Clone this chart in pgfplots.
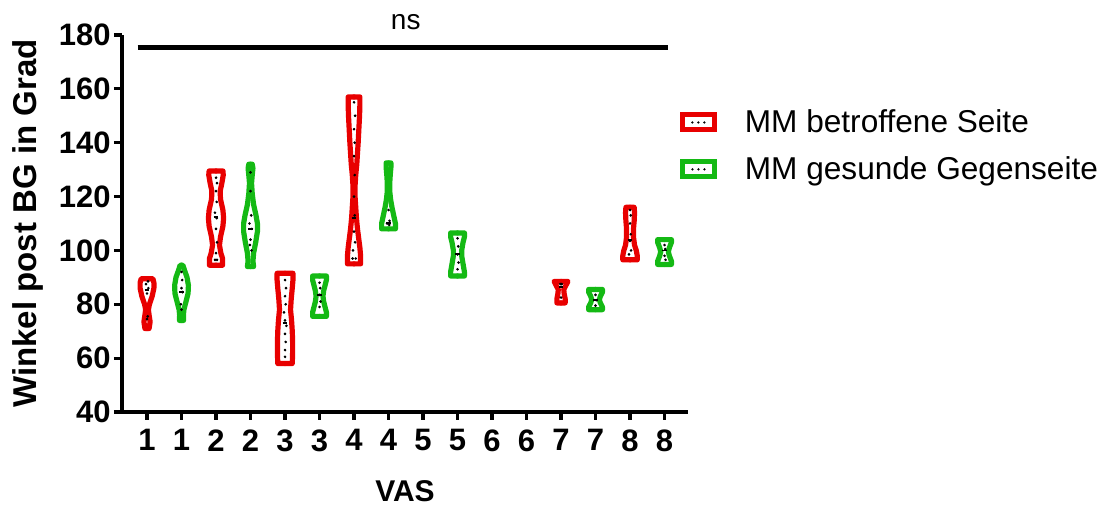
\documentclass[border=0pt]{standalone}
\usepackage{pgfplots}
\pgfplotsset{compat=1.18}
\usepackage{fontspec}
\setmainfont{Liberation Sans}
\definecolor{vred}{RGB}{232,0,0}
\definecolor{vgreen}{RGB}{20,185,20}
\newcommand{\violin}[3]{%
\addplot[#2, line width=2.6pt, line join=round, line cap=round, forget plot] table[x expr={#1+\thisrow{w}}, y=y, row sep=\\] {#3};
\addplot[#2, line width=2.6pt, line join=round, line cap=round, forget plot] table[x expr={#1-\thisrow{w}}, y=y, row sep=\\] {#3};
}
\newcommand{\med}[2]{%
\addplot[black, line width=0.9pt, forget plot] coordinates {(#1-0.07,#2) (#1+0.07,#2)};
}
\begin{document}
\begin{tikzpicture}
\begin{axis}[name=ax, scale only axis, width=283pt, height=188.5pt,
  xmin=-0.725, xmax=15.68, ymin=40, ymax=180,
  axis x line*=bottom, axis y line*=left,
  axis line style={line width=1.6pt, black},
  xtick={0,...,15}, xticklabels={1,1,2,2,3,3,4,4,5,5,6,6,7,7,8,8},
  ytick={40,60,...,180},
  tick style={line width=1.6pt, black}, major tick length=4pt, tick align=outside,
  /pgf/number format/assume math mode=true,
  tick label style={font=\fontsize{15.5}{18}\selectfont\bfseries},
  yticklabel style={inner sep=1.5pt},
  xticklabel style={inner sep=4.5pt},
  xlabel={VAS}, ylabel={Winkel post BG in Grad},
  xlabel style={font=\fontsize{15}{18}\selectfont\bfseries},
  ylabel style={font=\fontsize{16.5}{19}\selectfont\bfseries},
  xlabel shift=6.5pt, ylabel shift=2.5pt,
  clip=false,
  legend style={draw=none, fill=none, at={(rel axis cs:0.985,0.814)}, anchor=north west,
    font=\fontsize{15.8}{18}\selectfont, row sep=6.5pt, inner sep=0pt,
    /tikz/every odd column/.style={column sep=12pt}},
  legend cell align=left,
]
\addlegendimage{legend image code/.code={\draw[vred, line width=2.5pt, fill=white] (0pt,-3.75pt) rectangle (16pt,3.75pt); \foreach \i in {5,8,11} \fill[black] (\i pt,0) circle (0.35pt);}}
\addlegendentry{MM betroffene Seite}
\addlegendimage{legend image code/.code={\draw[vgreen, line width=2.5pt, fill=white] (0pt,-3.75pt) rectangle (16pt,3.75pt); \foreach \i in {5,8,11} \fill[black] (\i pt,0) circle (0.35pt);}}
\addlegendentry{MM gesunde Gegenseite}

\violin{0}{vred}{y w\\ 71 0\\ 71 0.06\\ 73.5 0.09\\ 76 0.06\\ 78 0.04\\ 80 0.07\\ 83 0.15\\ 86 0.2\\ 88 0.2\\ 89.5 0.17\\ 89.5 0\\}
\violin{1}{vgreen}{y w\\ 74 0\\ 74 0.06\\ 76 0.055\\ 78 0.07\\ 81 0.13\\ 84 0.19\\ 87 0.2\\ 90 0.16\\ 92.5 0.09\\ 94.5 0.04\\ 94.5 0\\}
\violin{2}{vred}{y w\\ 94.5 0\\ 94.5 0.19\\ 97 0.19\\ 99 0.14\\ 102 0.1\\ 105 0.13\\ 109 0.2\\ 112 0.22\\ 115 0.2\\ 119 0.13\\ 122 0.12\\ 125 0.17\\ 128 0.21\\ 129.5 0.2\\ 129.5 0\\}
\violin{3}{vgreen}{y w\\ 94 0\\ 94 0.09\\ 96 0.07\\ 99 0.09\\ 103 0.15\\ 107 0.2\\ 110 0.2\\ 113 0.16\\ 117 0.09\\ 121 0.05\\ 125 0.03\\ 128 0.05\\ 130.5 0.07\\ 132 0.05\\ 132 0\\}
\violin{4}{vred}{y w\\ 58 0\\ 58 0.21\\ 62 0.22\\ 66 0.22\\ 70 0.21\\ 74 0.19\\ 78 0.16\\ 82 0.18\\ 86 0.21\\ 89 0.23\\ 91.5 0.23\\ 91.5 0\\}
\violin{5}{vgreen}{y w\\ 75.5 0\\ 75.5 0.2\\ 77 0.2\\ 79 0.16\\ 81 0.12\\ 83 0.1\\ 85 0.12\\ 87 0.16\\ 89 0.2\\ 90.5 0.2\\ 90.5 0\\}
\violin{6}{vred}{y w\\ 95 0\\ 95 0.19\\ 98 0.19\\ 101 0.17\\ 104 0.14\\ 108 0.1\\ 112 0.07\\ 116 0.05\\ 120 0.03\\ 124 0.03\\ 128 0.05\\ 132 0.08\\ 136 0.1\\ 140 0.12\\ 145 0.14\\ 150 0.16\\ 154 0.17\\ 157 0.17\\ 157 0\\}
\violin{7}{vgreen}{y w\\ 108 0\\ 108 0.2\\ 110 0.2\\ 113 0.15\\ 116 0.1\\ 119 0.06\\ 122 0.035\\ 125 0.035\\ 128 0.05\\ 131 0.07\\ 132.5 0.07\\ 132.5 0\\}
\violin{9}{vgreen}{y w\\ 90.5 0\\ 90.5 0.2\\ 92 0.2\\ 95 0.16\\ 98 0.12\\ 100 0.12\\ 103 0.16\\ 105 0.2\\ 106.5 0.2\\ 106.5 0\\}
\violin{12}{vred}{y w\\ 80.5 0\\ 80.5 0.12\\ 82 0.12\\ 84 0.09\\ 85.5 0.08\\ 87 0.14\\ 88.5 0.2\\ 88.5 0\\}
\violin{13}{vgreen}{y w\\ 78 0\\ 78 0.2\\ 79 0.2\\ 80.5 0.14\\ 81.7 0.11\\ 83 0.14\\ 84.5 0.2\\ 85.5 0.2\\ 85.5 0\\}
\violin{14}{vred}{y w\\ 96.5 0\\ 96.5 0.21\\ 98 0.21\\ 100 0.18\\ 102 0.13\\ 105 0.1\\ 108 0.1\\ 111 0.12\\ 114 0.13\\ 116 0.12\\ 116 0\\}
\violin{15}{vgreen}{y w\\ 94.8 0\\ 94.8 0.2\\ 96 0.2\\ 98 0.14\\ 99.5 0.11\\ 101 0.14\\ 103 0.2\\ 104 0.2\\ 104 0\\}

\med{0}{85.3}\med{1}{84.7}\med{2}{112.3}\med{3}{108}\med{4}{73}\med{5}{83.5}\med{6}{112}
\med{7}{110.2}\med{9}{98.7}\med{12}{86.5}\med{13}{81.6}\med{14}{104}\med{15}{100}

\addplot[only marks, mark=*, mark size=0.45pt, black, forget plot] coordinates {
(0.03,88.5) (-0.03,87.5) (0.04,86) (0,84) (0.02,75.5) (0,74.5)
(1,92) (1.02,89) (1,86) (1.03,84.5) (0.98,80) (1,78)
(2,127) (2.03,125) (2,122) (2.02,118) (1.97,114) (2.02,112) (2,108) (2.03,103) (2,99) (1.97,96.5) (2.03,96.5)
(3,129) (3,122) (3.02,113) (2.97,110) (3.04,108) (3,104) (3.03,100) (2.98,102)
(4,89) (4.03,86) (4,83) (4.02,80) (3.97,77) (4,74) (4.04,72) (4,69) (4.02,66) (4,63) (4,60.5)
(5,88) (5.02,86) (5,83.5) (5.03,81) (5,79)
(6,155) (6.03,150) (6,145) (6.02,140) (6,135) (6.02,128) (6,120) (6.02,113) (6,107) (6.03,103) (5.97,100) (6.05,97) (5.96,97)
(7,115) (7.03,111) (6.96,110) (7.02,109.5)
(9,104.5) (9.02,101.5) (9,98.5) (9.03,95.5) (9,93)
(12.02,87.5) (11.98,87.5) (12,82.5)
(13,83.5) (13.02,81.5) (13,79.5)
(14,115) (14.02,113) (14,110) (14.02,106) (14,103.5) (14.03,100) (13.97,98.5)
(15,102) (15.02,100.5) (15,98) (15.03,96.5)
};

\addplot[black, line width=2.5pt, forget plot] coordinates {(-0.27,175.5) (15.1,175.5)};
\node[font=\fontsize{14}{16}\selectfont] at (axis cs:7.5,184.8) {ns};
\end{axis}
\pgfresetboundingbox
\path ([shift={(-61pt,-49.5pt)}]ax.south west) rectangle ([shift={(204.5pt,17.5pt)}]ax.north east);
\end{tikzpicture}
\end{document}
